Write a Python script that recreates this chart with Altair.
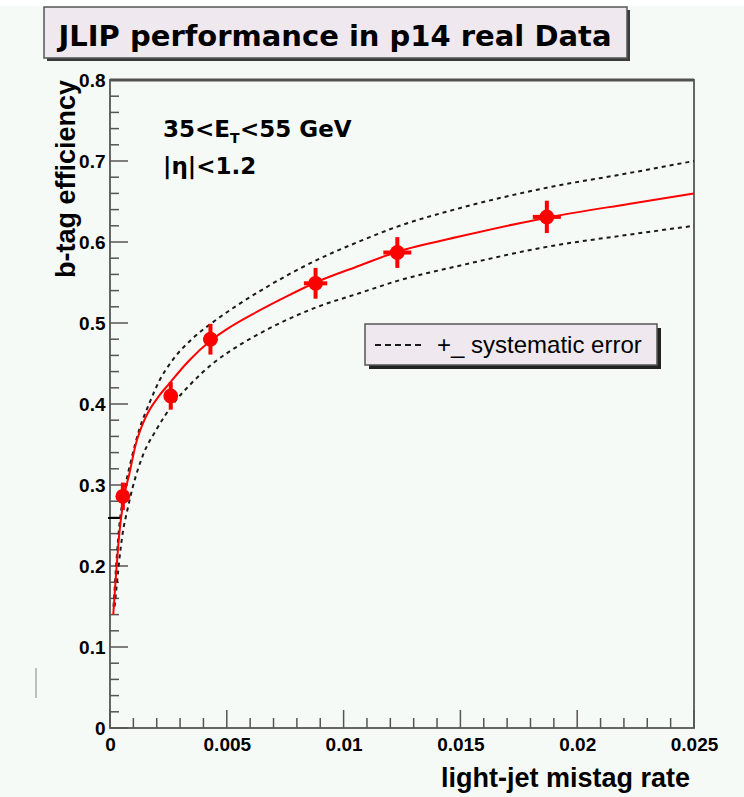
import altair as alt
import pandas as pd

# ---------------- data ----------------
pt_x = [0.00055, 0.0026, 0.0043, 0.0088, 0.0123, 0.0187]
pt_y = [0.286, 0.410, 0.480, 0.549, 0.587, 0.631]
pt_ex = [0.0001, 0.0002, 0.0003, 0.0005, 0.0006, 0.0006]
pt_ey = [0.017, 0.017, 0.019, 0.019, 0.019, 0.020]

fit_x = [0.00014, 0.0004, 0.0006, 0.00083, 0.0011, 0.0015, 0.0021, 0.0025, 0.0034,
         0.0043, 0.0052, 0.0063, 0.0075, 0.0088, 0.0107, 0.0123, 0.015, 0.0187, 0.0222, 0.025]
fit_y = [0.14, 0.24, 0.285, 0.314, 0.350, 0.382, 0.410, 0.424, 0.454,
         0.478, 0.496, 0.514, 0.532, 0.550, 0.571, 0.588, 0.607, 0.630, 0.647, 0.660]

up_x = [0.00015, 0.0004, 0.0006, 0.0009, 0.00125, 0.0017, 0.0021, 0.0027, 0.0035, 0.0045,
        0.0054, 0.0068, 0.0088, 0.0107, 0.0123, 0.015, 0.0187, 0.0222, 0.025]
up_y = [0.15, 0.25, 0.29, 0.33, 0.368, 0.402, 0.428, 0.455, 0.480, 0.503,
        0.521, 0.546, 0.577, 0.601, 0.619, 0.642, 0.667, 0.685, 0.700]

lo_x = [0.0002, 0.00054, 0.00075, 0.00097, 0.0014, 0.002, 0.0027, 0.0034, 0.0044, 0.0055,
        0.0068, 0.0088, 0.0107, 0.0123, 0.015, 0.0187, 0.0222, 0.025]
lo_y = [0.15, 0.24, 0.27, 0.297, 0.336, 0.369, 0.400, 0.423, 0.450, 0.472,
        0.493, 0.519, 0.537, 0.552, 0.571, 0.594, 0.609, 0.62]

x_major = [0, 0.005, 0.01, 0.015, 0.02, 0.025]
x_minor = [i / 1000 for i in range(1, 25) if i % 5 != 0]
y_major = [0, 0.1, 0.2, 0.3, 0.4, 0.5, 0.6, 0.7, 0.8]
y_minor = [i / 100 for i in range(2, 80, 2) if i % 10 != 0]

title_text = "JLIP performance in p14 real Data"
x_title = "light-jet mistag rate"
y_title = "b-tag efficiency"
legend_text = "+_ systematic error"

# ---------------- layout ----------------
W, H = 584, 648
PL, PT = 110, 80

xscale = alt.Scale(domain=[0, 0.025], nice=False, zero=False)
yscale = alt.Scale(domain=[0, 0.8], nice=False, zero=False)

xaxis = alt.Axis(values=x_major, labelExpr="format(datum.value, '~g')",
                 labelFont="Liberation Sans", labelFontSize=19, labelFontWeight="bold",
                 labelColor="black", ticks=False, tickSize=0, domain=False, grid=False,
                 labelPadding=7, title=None, labelFlush=False, labelOverlap=False,
                 labelBound=False)
yaxis = alt.Axis(values=y_major, labelExpr="format(datum.value, '~g')",
                 labelFont="Liberation Sans", labelFontSize=19, labelFontWeight="bold",
                 labelColor="black", ticks=False, tickSize=0, domain=False, grid=False,
                 labelPadding=5, title=None, labelFlush=False, labelOverlap=False,
                 labelBound=False)


def X(f):
    return alt.X(f, type="quantitative", scale=xscale, axis=xaxis)


def Y(f):
    return alt.Y(f, type="quantitative", scale=yscale, axis=yaxis)


one = pd.DataFrame({"a": [0]})


def rect(x1, x2, y1, y2, color, stroke=None, sw=0):
    kw = dict(fill=color)
    if stroke:
        kw.update(stroke=stroke, strokeWidth=sw)
    return alt.Chart(one).mark_rect(**kw).encode(
        x=alt.value(x1 - PL), x2=alt.value(x2 - PL),
        y=alt.value(y1 - PT), y2=alt.value(y2 - PT))


def text(t, x, y, size, font="Liberation Sans", weight="normal", align="left",
         baseline="alphabetic", angle=0):
    kw = dict(text=t, font=font, fontSize=size, fontWeight=weight, align=align,
              baseline=baseline, color="black")
    if angle:
        kw["angle"] = angle
    return alt.Chart(one).mark_text(**kw).encode(
        x=alt.value(x - PL), y=alt.value(y - PT))


layers = []
# white strip at top
layers.append(rect(0, 744, 0, 6, "#ffffff"))
# title box with shadow
layers.append(rect(47, 630, 10, 61, "#3a3a3a"))
layers.append(rect(44, 627, 7, 58, "#efe9ef", "#555555", 1.5))
# legend box with shadow
layers.append(rect(369, 661, 328, 369, "#222222"))
layers.append(rect(365, 657, 324, 365, "#efe9ef", "#555555", 1.5))

# ticks
tick_color = "#555555"
xt_major = pd.DataFrame({"x": x_major})
xt_minor = pd.DataFrame({"x": x_minor})
yt_major = pd.DataFrame({"y": y_major})
yt_minor = pd.DataFrame({"y": y_minor})
layers.append(alt.Chart(xt_major).mark_rule(color=tick_color, strokeWidth=1.5).encode(
    x=X("x"), y=alt.value(H), y2=alt.value(H - 18)))
layers.append(alt.Chart(xt_minor).mark_rule(color=tick_color, strokeWidth=1.5).encode(
    x=X("x"), y=alt.value(H), y2=alt.value(H - 10)))
layers.append(alt.Chart(yt_major).mark_rule(color=tick_color, strokeWidth=1.5).encode(
    y=Y("y"), x=alt.value(0), x2=alt.value(18)))
layers.append(alt.Chart(yt_minor).mark_rule(color=tick_color, strokeWidth=1.5).encode(
    y=Y("y"), x=alt.value(0), x2=alt.value(9)))

# thicker top frame
layers.append(alt.Chart(one).mark_rule(color="#505050", strokeWidth=3).encode(
    x=alt.value(0), x2=alt.value(W), y=alt.value(0)))

# small artifacts
layers.append(alt.Chart(one).mark_rule(color="#aaaaaa", strokeWidth=1.5).encode(
    x=alt.value(36 - PL), y=alt.value(668 - PT), y2=alt.value(698 - PT)))
layers.append(alt.Chart(one).mark_rule(color="black", strokeWidth=2).encode(
    x=alt.value(108 - PL), x2=alt.value(122 - PL), y=alt.value(518 - PT)))

# curves
up_df = pd.DataFrame({"x": up_x, "y": up_y, "o": range(len(up_x))})
lo_df = pd.DataFrame({"x": lo_x, "y": lo_y, "o": range(len(lo_x))})
fit_df = pd.DataFrame({"x": fit_x, "y": fit_y, "o": range(len(fit_x))})
for d in (up_df, lo_df):
    layers.append(alt.Chart(d).mark_line(color="#1a1a1a", strokeWidth=2,
                                         strokeDash=[4, 4], interpolate="monotone").encode(
        x=X("x"), y=Y("y"), order="o:Q"))
layers.append(alt.Chart(fit_df).mark_line(color="#ff0000", strokeWidth=2,
                                          interpolate="monotone").encode(
    x=X("x"), y=Y("y"), order="o:Q"))

# data points with error bars
pts = pd.DataFrame({"x": pt_x, "y": pt_y, "ex": pt_ex, "ey": pt_ey})
pts["xl"] = pts["x"] - pts["ex"]
pts["xh"] = pts["x"] + pts["ex"]
pts["yl"] = pts["y"] - pts["ey"]
pts["yh"] = pts["y"] + pts["ey"]
layers.append(alt.Chart(pts).mark_rule(color="#ff0000", strokeWidth=4).encode(
    x=X("x"), y=Y("yl"), y2="yh"))
layers.append(alt.Chart(pts).mark_rule(color="#ff0000", strokeWidth=4).encode(
    y=Y("y"), x=X("xl"), x2="xh"))
layers.append(alt.Chart(pts).mark_circle(color="#ff0000", opacity=1, size=220).encode(
    x=X("x"), y=Y("y")))

# legend sample and text
layers.append(alt.Chart(one).mark_rule(color="#1a1a1a", strokeWidth=2, strokeDash=[6, 4]).encode(
    x=alt.value(375 - PL), x2=alt.value(423 - PL), y=alt.value(345 - PT)))
layers.append(text(legend_text, 437, 353, 24))

# texts
layers.append(text(title_text, 335, 46, 29, font="DejaVu Sans", weight="bold",
                   align="center"))
layers.append(text(x_title, 690, 787, 27, weight="bold", align="right"))
layers.append(text(y_title, 75, 80, 27, weight="bold", align="right", angle=270))
layers.append(text("35<E", 163, 137, 23, font="DejaVu Sans", weight="bold"))
layers.append(text("T", 230, 143, 14, font="DejaVu Sans", weight="bold"))
layers.append(text("<55 GeV", 240, 137, 23, font="DejaVu Sans", weight="bold"))
layers.append(text("|η|<1.2", 163, 174, 23, font="DejaVu Sans", weight="bold"))

chart = alt.layer(*layers).properties(
    width=W, height=H,
    autosize=alt.AutoSizeParams(type="none"),
    padding={"left": PL, "top": PT, "right": 744 - PL - W, "bottom": 797 - PT - H},
    background="#f6faf7",
).configure_view(stroke="#666666", strokeWidth=2)

chart.save("out.html", embed_options={"renderer": "svg", "actions": False})
